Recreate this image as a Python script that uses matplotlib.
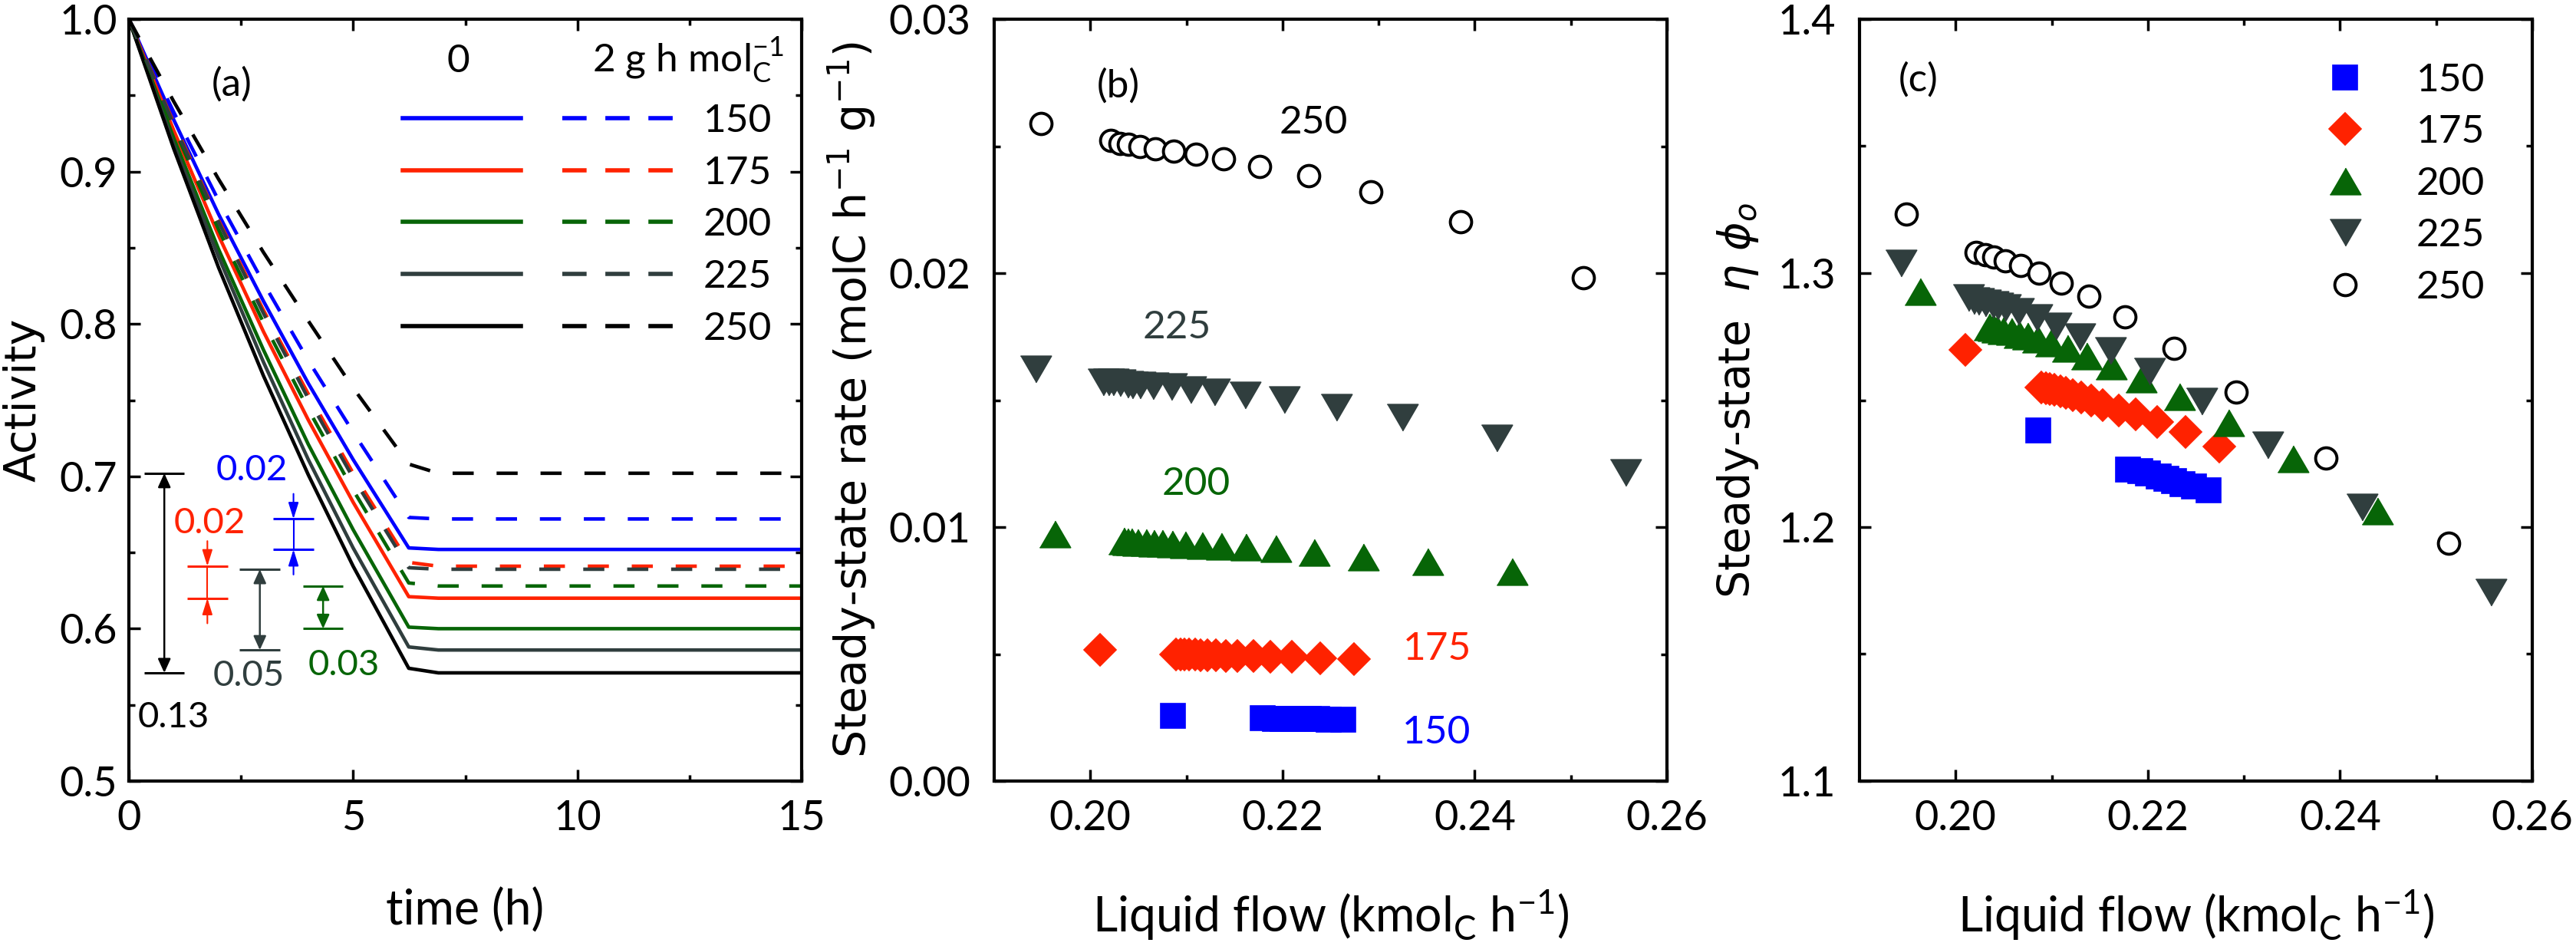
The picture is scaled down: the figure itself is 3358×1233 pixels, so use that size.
import matplotlib
matplotlib.use("Agg")
import matplotlib.pyplot as plt
from matplotlib.lines import Line2D
from matplotlib.ticker import MultipleLocator, FormatStrFormatter

plt.rcParams["font.family"] = ["Lato", "DejaVu Sans"]
plt.rcParams["mathtext.fontset"] = "dejavusans"

# ---------------- data ----------------
temps = ["150", "175", "200", "225", "250"]
colors = ["#0000FF", "#FF2200", "#076507", "#303E3E", "#000000"]

# (a) activity vs time; "_0" = 0, "_2" = 2 g h molC^-1
time_h = [0, 1, 2, 3, 4, 5, 6.24, 6.9, 15]
act_150_0 = [1.0, 0.934, 0.872, 0.815, 0.761, 0.711, 0.653, 0.652, 0.652]
act_175_0 = [1.0, 0.927, 0.858, 0.795, 0.737, 0.683, 0.621, 0.620, 0.620]
act_200_0 = [1.0, 0.922, 0.849, 0.783, 0.721, 0.665, 0.601, 0.600, 0.600]
act_225_0 = [1.0, 0.918, 0.844, 0.775, 0.711, 0.653, 0.588, 0.586, 0.586]
act_250_0 = [1.0, 0.915, 0.837, 0.766, 0.701, 0.641, 0.574, 0.571, 0.571]
act_150_2 = [1.0, 0.939, 0.881, 0.827, 0.776, 0.729, 0.673, 0.672, 0.672]
act_175_2 = [1.0, 0.932, 0.868, 0.809, 0.754, 0.702, 0.6435, 0.641, 0.641]
act_200_2 = [1.0, 0.929, 0.862, 0.801, 0.744, 0.691, 0.630, 0.628, 0.628]
act_225_2 = [1.0, 0.931, 0.867, 0.807, 0.751, 0.699, 0.640, 0.639, 0.639]
act_250_2 = [1.0, 0.946, 0.895, 0.847, 0.802, 0.758, 0.708, 0.702, 0.702]

# (b) steady-state rate and (c) steady-state eta*phi_o vs liquid flow
flow_150 = [0.2086, 0.2179, 0.2192, 0.2200, 0.2211, 0.2219, 0.2227, 0.2236, 0.2248, 0.2263]
rate_150 = [0.00258, 0.00249, 0.00246, 0.00245, 0.00245, 0.00244, 0.00244, 0.00244, 0.00243, 0.00243]
eta_150 = [1.2382, 1.2227, 1.2221, 1.2211, 1.2200, 1.2190, 1.2180, 1.2170, 1.2160, 1.2145]

flow_175 = [0.2010, 0.2089, 0.2094, 0.2098, 0.2103, 0.2109, 0.2115, 0.2122, 0.2131,
            0.2141, 0.2153, 0.2170, 0.2187, 0.2210, 0.2239, 0.2274]
rate_175 = [0.00518, 0.00500, 0.00499, 0.00499, 0.00498, 0.00497, 0.00496, 0.00495, 0.00494,
            0.00493, 0.00492, 0.00491, 0.00490, 0.00488, 0.00482, 0.00481]
eta_175 = [1.2698, 1.2550, 1.2547, 1.2544, 1.2541, 1.2535, 1.2528, 1.2520, 1.2510,
           1.2498, 1.2481, 1.2459, 1.2444, 1.2414, 1.2374, 1.2318]

flow_200 = [0.1963, 0.2035, 0.2039, 0.2043, 0.2049, 0.2058, 0.2066, 0.2075, 0.2085,
            0.2099, 0.2116, 0.2136, 0.2162, 0.2193, 0.2233, 0.2284, 0.2351, 0.2439]
rate_200 = [0.00974, 0.00945, 0.00943, 0.00942, 0.00941, 0.00940, 0.00938, 0.00936, 0.00934,
            0.00931, 0.00928, 0.00924, 0.00920, 0.00914, 0.00901, 0.00882, 0.00864, 0.00824]
eta_200 = [1.2928, 1.2789, 1.2784, 1.2779, 1.2774, 1.2769, 1.2759, 1.2752, 1.2739,
           1.2724, 1.2704, 1.2674, 1.2634, 1.2583, 1.2513, 1.2412, 1.2268, 1.2063]

flow_225 = [0.1943, 0.2013, 0.2019, 0.2024, 0.2031, 0.2039, 0.2044, 0.2052, 0.2065,
            0.2084, 0.2104, 0.2129, 0.2161, 0.2202, 0.2256, 0.2325, 0.2423, 0.2557]
rate_225 = [0.01622, 0.01572, 0.01571, 0.01570, 0.01569, 0.01562, 0.01560, 0.01558, 0.01555,
            0.01552, 0.01540, 0.01532, 0.01520, 0.01502, 0.01471, 0.01431, 0.01350, 0.01213]
eta_225 = [1.3039, 1.2902, 1.2892, 1.2887, 1.2882, 1.2875, 1.2870, 1.2864, 1.2850,
           1.2826, 1.2792, 1.2750, 1.2696, 1.2614, 1.2495, 1.2323, 1.2078, 1.1742]

flow_250 = [0.1949, 0.2021, 0.2031, 0.2040, 0.2052, 0.2068, 0.2087, 0.2110, 0.2139,
            0.2176, 0.2227, 0.2292, 0.2385, 0.2513]
rate_250 = [0.02590, 0.02522, 0.02512, 0.02508, 0.02498, 0.02489, 0.02479, 0.02469, 0.02449,
            0.02419, 0.02383, 0.02320, 0.02202, 0.01983]
eta_250 = [1.3234, 1.3081, 1.3073, 1.3062, 1.3049, 1.3030, 1.3000, 1.2960, 1.2908,
           1.2827, 1.2705, 1.2532, 1.2273, 1.1936]

# ---------------- styles ----------------
TICK_FS = 39
LAB_FS = 37
XLAB_FS = 45
YLAB_FS = 41
DASH = (6, 6.5)
tri_up = [(-1, -0.86), (1, -0.86), (0, 0.86)]
tri_dn = [(-1, 0.86), (1, 0.86), (0, -0.86)]
markers = ["s", "D", tri_up, tri_dn, "o"]
msizes = [22.5, 21, 29, 29, 20]

fig = plt.figure(figsize=(33.58, 12.33), dpi=100)
W, H = 3358, 1233
ax_b = 1 - 1018 / H
ax_h = 993 / H
ax_w = 877 / W
axa = fig.add_axes([168 / W, ax_b, ax_w, ax_h])
axb = fig.add_axes([1296 / W, ax_b, ax_w, ax_h])
axc = fig.add_axes([2424 / W, ax_b, ax_w, ax_h])


def style_axis(ax, ypad):
    for s in ax.spines.values():
        s.set_linewidth(3)
    ax.tick_params(which="both", direction="in", top=True, right=True, width=2.5)
    ax.tick_params(which="major", length=11, labelsize=TICK_FS)
    ax.tick_params(which="minor", length=6)
    ax.tick_params(axis="x", pad=17)
    ax.tick_params(axis="y", pad=ypad)


# ---------------- (a) ----------------
solids = [act_150_0, act_175_0, act_200_0, act_225_0, act_250_0]
dashed = [act_150_2, act_175_2, act_200_2, act_225_2, act_250_2]
for a, c in zip(solids, colors):
    axa.plot(time_h, a, color=c, lw=3.3)
for a, c in zip(dashed, colors):
    axa.plot(time_h, a, color=c, lw=3.3, dashes=DASH)

axa.set_xlim(0, 15)
axa.set_ylim(0.5, 1.0)
axa.xaxis.set_major_locator(MultipleLocator(5))
axa.xaxis.set_minor_locator(MultipleLocator(2.5))
axa.yaxis.set_major_locator(MultipleLocator(0.1))
axa.yaxis.set_minor_locator(MultipleLocator(0.05))
axa.yaxis.set_major_formatter(FormatStrFormatter("%.1f"))
style_axis(axa, 11)
axa.set_xlabel("time (h)", fontsize=XLAB_FS)
axa.xaxis.set_label_coords(0.5, -0.14)
axa.set_ylabel("Activity", fontsize=YLAB_FS, family=["DejaVu Sans"])
axa.yaxis.set_label_coords(-0.125, 0.5)
axa.text(2.3, 0.957, "(a)", fontsize=LAB_FS, ha="center", va="center")

# legend of (a): two columns, solid (0) and dashed (2 g h molC-1)
h_solid = [Line2D([], [], color=c, lw=4) for c in colors]
h_dash = [Line2D([], [], color=c, lw=4, dashes=(5.7, 4.4)) for c in colors]
axa.legend(h_solid + h_dash, [""] * 5 + temps, ncol=2, loc="upper left",
           bbox_to_anchor=(0.407, 0.889), frameon=False, fontsize=LAB_FS,
           handlelength=3.0, handletextpad=0.57, columnspacing=0.48,
           labelspacing=0.42, borderpad=0, borderaxespad=0)
axa.text(7.35, 0.9654, "0", fontsize=LAB_FS, ha="center", va="baseline")
axa.text(10.33, 0.9654, r"2 g h mol$_\mathregular{C}^\mathregular{-1}$",
         fontsize=LAB_FS, ha="left", va="baseline")

# difference markers between final dashed and solid levels
head_in = "head_length=0.8,head_width=0.25"
head_two = "head_length=0.55,head_width=0.25"
diffs = [
    # (dashed series, solid series, x, cap half width, color, inward, label, label pos)
    (act_250_2, act_250_0, 0.79, 0.45, colors[4], False, "0.13", (0.99, 0.542)),
    (act_225_2, act_225_0, 2.92, 0.45, colors[3], False, "0.05", (2.68, 0.569)),
    (act_175_2, act_175_0, 1.75, 0.45, colors[1], True, "0.02", (1.80, 0.669)),
    (act_150_2, act_150_0, 3.67, 0.45, colors[0], True, "0.02", (2.74, 0.704)),
    (act_200_2, act_200_0, 4.33, 0.45, colors[2], False, "0.03", (4.80, 0.576)),
]
for dsh, sol, x, hw, c, inward, txt, pos in diffs:
    hi, lo = dsh[-1], sol[-1]
    axa.hlines([hi, lo], x - hw, x + hw, color=c, lw=2.2)
    if inward:
        axa.plot([x, x], [hi, lo], color=c, lw=1.5)
        axa.annotate("", xy=(x, hi), xytext=(x, hi + 0.0165),
                     arrowprops=dict(arrowstyle="-|>," + head_in, color=c, lw=1.5,
                                     shrinkA=0, shrinkB=0, mutation_scale=16))
        axa.annotate("", xy=(x, lo), xytext=(x, lo - 0.0165),
                     arrowprops=dict(arrowstyle="-|>," + head_in, color=c, lw=1.5,
                                     shrinkA=0, shrinkB=0, mutation_scale=16))
    else:
        axa.annotate("", xy=(x, lo), xytext=(x, hi),
                     arrowprops=dict(arrowstyle="<|-|>," + head_two, color=c, lw=1.8,
                                     shrinkA=0, shrinkB=0, mutation_scale=20))
    axa.text(pos[0], pos[1], txt, color=c, fontsize=34, ha="center", va="center")

# ---------------- (b) and (c) ----------------
flows = [flow_150, flow_175, flow_200, flow_225, flow_250]
rates = [rate_150, rate_175, rate_200, rate_225, rate_250]
etas = [eta_150, eta_175, eta_200, eta_225, eta_250]

handles_c = []
for i in range(5):
    face = "white" if temps[i] == "250" else colors[i]
    mew = 2.8 if temps[i] == "250" else 1.2
    kw = dict(ls="none", marker=markers[i], ms=msizes[i], mfc=face, mec=colors[i], mew=mew)
    axb.plot(flows[i], rates[i], **kw)
    hc, = axc.plot(flows[i], etas[i], label=temps[i], **kw)
    handles_c.append(hc)

for ax in (axb, axc):
    ax.set_xlim(0.19, 0.26)
    ax.set_xticks([0.20, 0.22, 0.24, 0.26])
    ax.set_xticks([0.21, 0.23, 0.25], minor=True)
    ax.xaxis.set_major_formatter(FormatStrFormatter("%.2f"))
    ax.set_xlabel(r"Liquid flow (kmol$_\mathregular{C}$ h$^\mathregular{-1}$)", fontsize=XLAB_FS)
    ax.xaxis.set_label_coords(0.5, -0.14)

axb.set_ylim(0, 0.03)
axb.yaxis.set_major_locator(MultipleLocator(0.01))
axb.yaxis.set_minor_locator(MultipleLocator(0.005))
axb.yaxis.set_major_formatter(FormatStrFormatter("%.2f"))
style_axis(axb, 22)
axb.set_ylabel(r"Steady-state rate (molC h$^{-1}$ g$^{-1}$)", fontsize=YLAB_FS,
               family=["DejaVu Sans"])
axb.yaxis.set_label_coords(-0.172, 0.5)
axb.text(0.2029, 0.02737, "(b)", fontsize=LAB_FS, ha="center", va="center")
label_pos_b = [(0.2360, 0.0019), (0.2361, 0.0052), (0.2110, 0.01169),
               (0.2090, 0.01786), (0.2232, 0.02592)]
for (x, y), t, c in zip(label_pos_b, temps, colors):
    axb.text(x, y, t, color=c, fontsize=LAB_FS, ha="center", va="center")

axc.set_ylim(1.1, 1.4)
axc.yaxis.set_major_locator(MultipleLocator(0.1))
axc.yaxis.set_minor_locator(MultipleLocator(0.05))
axc.yaxis.set_major_formatter(FormatStrFormatter("%.1f"))
style_axis(axc, 22)
axc.set_ylabel(r"Steady-state  $\eta$ $\phi_o$", fontsize=YLAB_FS, family=["DejaVu Sans"])
axc.yaxis.set_label_coords(-0.147, 0.5)
axc.text(0.1961, 1.3761, "(c)", fontsize=LAB_FS, ha="center", va="center")
axc.legend(handles=handles_c, loc="upper left", bbox_to_anchor=(0.693, 0.943),
           frameon=False, fontsize=LAB_FS, numpoints=1, handlelength=1.0,
           handletextpad=1.3, labelspacing=0.42, borderpad=0, borderaxespad=0)

fig.savefig("out.png", dpi=100)
